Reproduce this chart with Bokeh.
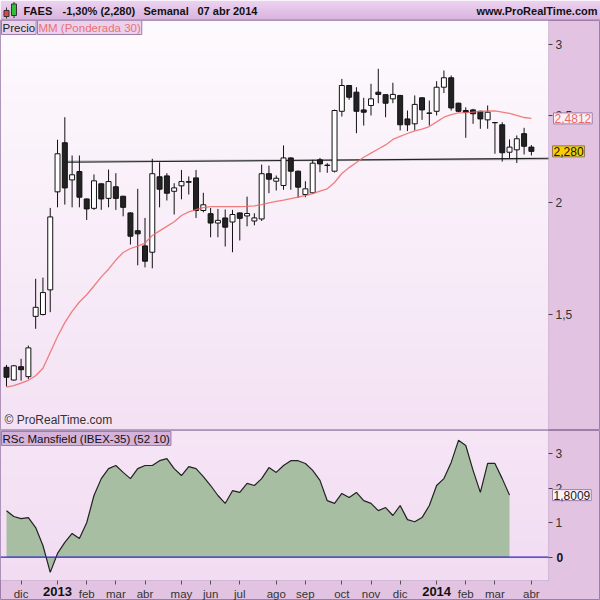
import numpy as np
from bokeh.plotting import figure
from bokeh.layouts import column
from bokeh.models import Range1d, FixedTicker, Label, BoxAnnotation, LinearAxis
from bokeh.core.properties import value
from bokeh.embed import file_html
from bokeh.resources import INLINE

# ---------------- data (weekly candles, FAES, 19 nov 2012 .. 07 abr 2014) ----------------
week = list(range(73))
opens = [1.310, 1.268, 1.312, 1.279, 1.493, 1.500, 1.598, 2.055, 2.331, 2.119,
         2.165, 2.018, 1.970, 2.098, 2.021, 2.082, 2.032, 1.947, 1.860, 1.789,
         1.760, 2.136, 2.141, 2.058, 2.087, 2.106, 2.130, 1.959, 1.943, 1.897,
         1.922, 1.902, 1.947, 1.932, 1.907, 1.917, 2.153, 2.112, 2.089, 2.242,
         2.167, 2.041, 2.050, 2.231, 2.201, 2.167, 2.527, 2.700, 2.654, 2.536,
         2.565, 2.654, 2.637, 2.609, 2.632, 2.478, 2.447, 2.616, 2.516, 2.527,
         2.688, 2.754, 2.580, 2.532, 2.536, 2.527, 2.472, 2.455, 2.441, 2.275,
         2.289, 2.386, 2.305]
highs = [1.318, 1.318, 1.339, 1.385, 1.644, 1.649, 1.972, 2.349, 2.489, 2.256,
         2.256, 2.020, 2.149, 2.100, 2.176, 2.156, 2.034, 1.950, 2.071, 1.922,
         2.237, 2.217, 2.156, 2.101, 2.174, 2.138, 2.174, 2.050, 1.972, 1.967,
         1.964, 1.962, 1.949, 2.030, 1.945, 2.204, 2.198, 2.143, 2.315, 2.245,
         2.170, 2.112, 2.231, 2.242, 2.212, 2.538, 2.746, 2.703, 2.688, 2.616,
         2.712, 2.818, 2.640, 2.719, 2.635, 2.532, 2.632, 2.619, 2.598, 2.730,
         2.806, 2.770, 2.583, 2.553, 2.543, 2.530, 2.565, 2.458, 2.457, 2.351,
         2.375, 2.422, 2.317]
lows = [1.247, 1.266, 1.266, 1.271, 1.446, 1.497, 1.509, 1.975, 1.989, 1.975,
        1.975, 1.912, 1.962, 1.962, 1.975, 1.962, 1.930, 1.795, 1.702, 1.693,
        1.689, 1.975, 2.010, 1.939, 2.016, 2.041, 1.922, 1.950, 1.829, 1.829,
        1.786, 1.760, 1.814, 1.881, 1.886, 1.907, 2.048, 2.062, 2.066, 2.066,
        2.023, 2.027, 2.045, 2.161, 2.158, 2.160, 2.493, 2.603, 2.389, 2.436,
        2.500, 2.580, 2.489, 2.580, 2.406, 2.402, 2.406, 2.472, 2.436, 2.500,
        2.648, 2.532, 2.521, 2.361, 2.447, 2.416, 2.416, 2.266, 2.221, 2.242,
        2.213, 2.262, 2.256]
closes = [1.277, 1.315, 1.302, 1.377, 1.528, 1.587, 1.927, 2.266, 2.076, 2.147,
          2.027, 1.967, 2.114, 2.018, 2.110, 2.021, 1.975, 1.834, 1.845, 1.720,
          2.153, 2.069, 2.048, 2.076, 2.110, 2.110, 1.959, 1.988, 1.897, 1.910,
          1.877, 1.939, 1.920, 1.944, 1.922, 2.153, 2.123, 2.128, 2.242, 2.167,
          2.080, 2.071, 2.212, 2.208, 2.199, 2.532, 2.700, 2.620, 2.527, 2.521,
          2.609, 2.639, 2.580, 2.639, 2.441, 2.441, 2.572, 2.536, 2.514, 2.688,
          2.754, 2.549, 2.527, 2.521, 2.511, 2.478, 2.521, 2.454, 2.272, 2.305,
          2.355, 2.310, 2.280]
ma30 = [1.245, 1.250, 1.258, 1.267, 1.282, 1.307, 1.361, 1.418, 1.469, 1.512,
        1.549, 1.578, 1.614, 1.652, 1.685, 1.725, 1.759, 1.777, 1.788, 1.802,
        1.837, 1.859, 1.881, 1.903, 1.934, 1.952, 1.964, 1.974, 1.979, 1.979,
        1.979, 1.979, 1.979, 1.980, 1.982, 1.989, 1.998, 2.005, 2.012, 2.020,
        2.028, 2.035, 2.046, 2.059, 2.071, 2.105, 2.154, 2.187, 2.216, 2.246,
        2.270, 2.294, 2.318, 2.351, 2.369, 2.387, 2.403, 2.414, 2.430, 2.459,
        2.489, 2.506, 2.517, 2.519, 2.522, 2.526, 2.529, 2.530, 2.522, 2.513,
        2.500, 2.487, 2.4812]
rsc_week = list(range(70))
rsc = [1.35, 1.18, 1.12, 1.15, 0.86, 0.34, -0.44, 0.11, 0.43, 0.69,
       0.54, 1.00, 1.79, 2.28, 2.57, 2.66, 2.46, 2.28, 2.57, 2.66,
       2.66, 2.80, 2.86, 2.57, 2.37, 2.63, 2.57, 2.34, 2.08, 1.79,
       1.56, 1.93, 1.88, 2.14, 2.08, 2.28, 2.60, 2.46, 2.66, 2.80,
       2.80, 2.72, 2.52, 2.23, 1.64, 1.56, 1.85, 1.73, 1.88, 1.64,
       1.56, 1.35, 1.44, 1.21, 1.50, 1.09, 1.03, 1.15, 1.50, 2.08,
       2.28, 2.75, 3.39, 3.24, 2.52, 1.88, 2.72, 2.72, 2.28, 1.8009]
trend_x = [8, 74.35]
trend_y = [2.217, 2.240]
shadow_y = [2.221, 2.236]
tick_weeks = [2, 7, 11, 15, 19, 24, 28, 32, 37, 41, 46, 50, 54, 59, 63, 67, 72]
tick_names = ["dic", "2013", "feb", "mar", "abr", "may", "jun", "jul", "ago", "sep",
              "oct", "nov", "dic", "2014", "feb", "mar", "abr"]
price_ticks = [1.5, 2, 2.5, 3]
price_tick_names = ["1,5", "2", "2,5", "3"]
rsc_ticks = [0, 1, 2, 3]
last_close = 2.280
last_ma = 2.4812
last_rsc = 1.8009

# ---------------- geometry / styling ----------------
FONT = "Liberation Sans"
PURPLE_BG = "#e2c4e2"
EDGE = "#9c7ea8"
W = 600
XA, XB = -0.823, 81.48     # whole width of the figures (in weeks)
X1 = 74.35                 # right edge of the plotting area (axis strip beyond)
x_rng = Range1d(XA, XB)


def hexrgb(h):
    h = h.lstrip("#")
    return [int(h[i:i + 2], 16) for i in (0, 2, 4)]


def gradient(c_top, c_bot, n=200):
    a, b = np.array(hexrgb(c_top), float), np.array(hexrgb(c_bot), float)
    img = np.zeros((n, 1), dtype=np.uint32)
    view = img.view(dtype=np.uint8).reshape((n, 1, 4))
    for k in range(n):
        t = k / (n - 1)          # row 0 is the bottom
        c = b * (1 - t) + a * t
        view[k, 0, 0:3] = c.astype(np.uint8)
        view[k, 0, 3] = 255
    return img


def base_fig(height, y_rng, log=False):
    f = figure(width=W, height=height, x_range=x_rng, y_range=y_rng,
               y_axis_type="log" if log else "linear",
               y_axis_location="right", x_axis_location=None,
               toolbar_location=None, output_backend="svg", min_border=0)
    f.grid.visible = False
    f.outline_line_color = EDGE
    f.border_fill_color = PURPLE_BG
    f.background_fill_color = PURPLE_BG
    return f


def style_yaxis(ax, ticks, overrides):
    ax.fixed_location = X1
    ax.ticker = FixedTicker(ticks=ticks, minor_ticks=[])
    ax.major_label_overrides = overrides
    ax.major_label_text_font = FONT
    ax.major_label_text_font_size = "12px"
    ax.major_label_text_color = "#333333"
    ax.major_tick_out = 4
    ax.major_tick_in = 0
    ax.minor_tick_out = 0
    ax.minor_tick_in = 0
    ax.axis_line_color = None
    ax.major_tick_line_color = "#444444"
    ax.major_label_standoff = 3


# ---------------- header ----------------
hd = figure(width=W, height=20, x_range=Range1d(0, W), y_range=Range1d(0, 20),
            toolbar_location=None, output_backend="svg", min_border=0,
            x_axis_location=None, y_axis_location=None)
hd.grid.visible = False
hd.outline_line_color = None
hd.border_fill_color = "#dcbce2"
hd.image_rgba(image=[gradient("#edd4f2", "#d9b3df")], x=0, y=0, dw=W, dh=20)
hd.segment(x0=[6, 13.5], y0=[2, 2.5], x1=[6, 13.5], y1=[13, 18.5], line_color="#333333", line_width=1)
hd.quad(left=[3.5], right=[8.5], bottom=[4], top=[10], fill_color="#e04848", line_color="#333333")
hd.quad(left=[11], right=[16], bottom=[5], top=[16.5], fill_color="#34c034", line_color="#333333")
hd.text(x=[23, 62, 143, 197], y=[10, 10, 10, 10],
        text=["FAES", "-1,30% (2,280)", "Semanal", "07 abr 2014"],
        text_font=value(FONT), text_font_style="bold", text_font_size="11px",
        text_baseline="middle", text_color="#111111")
hd.text(x=[W - 3], y=[10], text=["www.ProRealTime.com"], text_font=value(FONT),
        text_font_style="bold", text_font_size="11px", text_baseline="middle",
        text_align="right", text_color="#111111")
hd.segment(x0=[0], y0=[0.5], x1=[W], y1=[0.5], line_color=EDGE, line_width=1)

# ---------------- main price panel ----------------
YT, YB = 3.19, 1.1139          # whole main figure
YP = 1.1168                    # bottom edge of the plotting area
p = base_fig(410, Range1d(YB, YT), log=True)
p.image_rgba(image=[gradient("#fefbfe", "#f4e2f4")], x=XA, y=YP, dw=X1 - XA, dh=YT - YP)
p.add_layout(BoxAnnotation(left=XA, right=X1, bottom=YP, top=YT, fill_alpha=0,
                           line_color=EDGE, line_width=1, level="overlay"))

up = [i for i in week if closes[i] >= opens[i]]
dn = [i for i in week if closes[i] < opens[i]]
p.line(x=trend_x, y=shadow_y, line_color="#888888", line_width=2, line_alpha=0.55)
p.line(x=trend_x, y=trend_y, line_color="#222222", line_width=1.1)
p.segment(x0=week, y0=lows, x1=week, y1=highs, line_color="#111111", line_width=1)
p.vbar(x=up, width=0.68, bottom=[opens[i] for i in up], top=[closes[i] for i in up],
       fill_color="white", line_color="#111111", line_width=1)
p.vbar(x=dn, width=0.68, bottom=[closes[i] for i in dn], top=[opens[i] for i in dn],
       fill_color="#222222", line_color="#111111", line_width=1)
p.line(x=week, y=ma30, line_color="#ee6a6a", line_width=1.3, line_alpha=0.85)

style_yaxis(p.yaxis[0], price_ticks, {t: s for t, s in zip(price_ticks, price_tick_names)})

p.add_layout(Label(x=X1, y=last_ma, x_offset=5, text="2,4812", text_font=FONT,
                   text_font_size="12px", text_color="#e86a6a", text_baseline="middle",
                   background_fill_color="#fbeff7", border_line_color=EDGE, padding=1))
p.add_layout(Label(x=X1, y=last_close, x_offset=4, text="2,280", text_font=FONT,
                   text_font_size="12px", text_color="#111111", text_baseline="middle",
                   background_fill_color="#f8d000", border_line_color="#8a7a50", padding=1))
p.add_layout(Label(x=XA, y=YT, x_offset=1, text="Precio", text_font=FONT, text_font_size="11.5px",
                   text_color="#222222", text_baseline="top",
                   background_fill_color="#ead2ee", border_line_color=EDGE, padding=1))
p.add_layout(Label(x=XA, y=YT, x_offset=37, text="MM (Ponderada 30)", text_font=FONT,
                   text_font_size="11.5px", text_color="#ee7070", text_baseline="top",
                   background_fill_color="#ead2ee", border_line_color=EDGE, padding=1))
p.add_layout(Label(x=XA, y=YP, x_offset=4, y_offset=2, text="\u00a9 ProRealTime.com",
                   text_font=FONT, text_font_size="12px", text_color="#333333",
                   text_baseline="bottom"))

# ---------------- RSc Mansfield panel ----------------
RT, RB = 3.676, -1.256         # whole lower figure
RP = -0.676                    # bottom edge of the plotting area
q = base_fig(170, Range1d(RB, RT))
q.image_rgba(image=[gradient("#f6e6f6", "#f2dcf2")], x=XA, y=RP, dw=X1 - XA, dh=RT - RP)
q.add_layout(BoxAnnotation(left=XA, right=X1, bottom=RP, top=RT, fill_alpha=0,
                           line_color=EDGE, line_width=1, level="overlay"))
q.varea(x=rsc_week, y1=[0] * len(rsc), y2=rsc, fill_color="#a7bea2", fill_alpha=1)
q.line(x=rsc_week, y=rsc, line_color="#222222", line_width=1.2)
q.line(x=[XA, X1], y=[0, 0], line_color="#2626c8", line_width=1.2)

style_yaxis(q.yaxis[0], rsc_ticks, {0: ""})

xa = LinearAxis(fixed_location=RP)
q.add_layout(xa, "below")
xa.ticker = FixedTicker(ticks=tick_weeks, minor_ticks=[])
xa.major_label_overrides = {t: ("" if s.isdigit() else s) for t, s in zip(tick_weeks, tick_names)}
xa.major_label_text_font = FONT
xa.major_label_text_font_size = "11.5px"
xa.major_label_text_color = "#333333"
xa.major_tick_out = 4
xa.major_tick_in = 0
xa.minor_tick_out = 0
xa.minor_tick_in = 0
xa.axis_line_color = None
xa.major_tick_line_color = "#555555"
xa.major_label_standoff = 3

for t, s in zip(tick_weeks, tick_names):
    if s.isdigit():
        q.add_layout(Label(x=t, y=RP, y_offset=-6, text=s, text_font=FONT,
                           text_font_style="bold", text_font_size="13px",
                           text_color="#111111", text_align="center", text_baseline="top"))

q.add_layout(Label(x=X1, y=0, x_offset=8, text="0", text_font=FONT, text_font_style="bold",
                   text_font_size="12px", text_color="#111111", text_baseline="middle"))
q.add_layout(Label(x=X1, y=last_rsc, x_offset=4, text="1,8009", text_font=FONT,
                   text_font_size="12px", text_color="#222222", text_baseline="middle",
                   background_fill_color="#fbf3fb", border_line_color=EDGE, padding=1))
q.add_layout(Label(x=XA, y=RT, x_offset=1, y_offset=-1, text="RSc Mansfield (IBEX-35) (52 10)",
                   text_font=FONT, text_font_size="11.5px", text_color="#111111",
                   text_baseline="top", background_fill_color="#d4b2da",
                   border_line_color=EDGE, padding=1))

layout = column(hd, p, q, spacing=0)
open("out.html", "w").write(file_html(layout, INLINE))
